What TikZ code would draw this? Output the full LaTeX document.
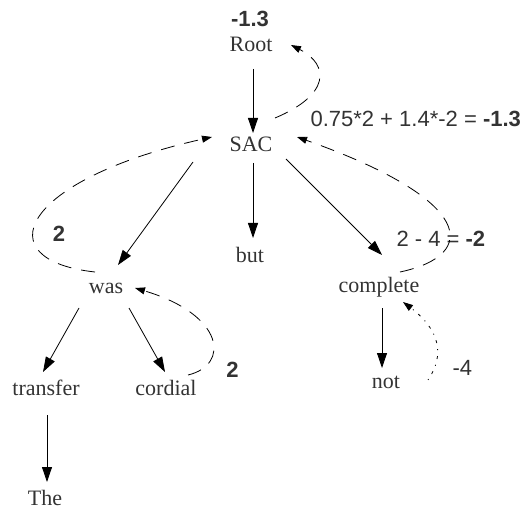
\documentclass[tikz,border=0pt]{standalone}
\usepackage{fontspec}
\setmainfont{Liberation Serif}
\setsansfont{Liberation Sans}
\usepackage{tikz}
\usetikzlibrary{arrows.meta,calc}

\definecolor{inkgray}{HTML}{333333}

\begin{document}
\begin{tikzpicture}[x=1pt,y=-1pt,
  word/.style={inner sep=0pt,text height=16pt,text depth=5pt,
    font=\fontsize{22}{26}\selectfont,text=inkgray},
  score/.style={anchor=base,font=\sffamily\fontsize{22}{26}\selectfont,text=inkgray},
  arr/.style={line width=0.8pt,-{Triangle[length=15pt,width=10pt]}},
  back/.style={line width=0.8pt,dash pattern=on 14pt off 10pt,
    -{Triangle[length=10pt,width=7pt]}},
  dotback/.style={line width=0.8pt,dash pattern=on 1pt off 6pt on 3pt off 6pt,
    -{Triangle[length=10pt,width=7pt]}}]

\useasboundingbox (0,0) rectangle (524,510);

% Words
\node[word] (root) at (251,46.5) {Root};
\node[word] (sac) at (251,146.5) {SAC};
\node[word] (but) at (250,256.5) {but};
\node[word] (was) at (106,288.5) {was};
\node[word] (complete) at (379,287.5) {complete};
\node[word] (transfer) at (46,389.5) {transfer};
\node[word] (cordial) at (166,389.5) {cordial};
\node[word] (not) at (386,382.5) {not};
\node[word] (the) at (45,499.5) {The};

%-------------------------------------------------
% Scores
%-------------------------------------------------

\node[score] (rootscore) at (250,27) {\textbf{-1.3}};
\node[score,anchor=base west] (sacsum) at (307,127) {0.75*2 + 1.4*-2 = \textbf{-1.3}};
\node[score] (wasscore) at (59,242) {\textbf{2}};
\node[score] (cordialscore) at (232.5,377) {\textbf{2}};
\node[score,anchor=base west] (completesum) at (393,247) {2 - 4 = \textbf{-2}};
\node[score,anchor=base west] (notscore) at (449,375) {-4};

%-------------------------------------------------
% Dependency arcs
%-------------------------------------------------

\draw[arr] ($(root)+(2,22.5)$) -- ($(sac)+(2,-13.5)$);
\draw[arr] ($(sac)+(2,16.5)$) -- ($(but)+(3,-18.5)$);
\draw[arr] ($(sac)+(-58,15.5)$) -- ($(was)+(12,-23.5)$);
\draw[arr] ($(sac)+(35,12.5)$) -- ($(complete)+(3,-32.5)$);
\draw[arr] ($(was)+(-27,19.5)$) -- ($(transfer)+(-3,-17.5)$);
\draw[arr] ($(was)+(23,19.5)$) -- ($(cordial)+(-1,-17.5)$);
\draw[arr] ($(transfer)+(1,25.5)$) -- ($(the)+(2,-17.5)$);
\draw[arr] ($(complete)+(3,20.5)$) -- ($(not)+(-4,-14.5)$);

%-------------------------------------------------
% Scores passed back up
%-------------------------------------------------

\draw[back] ($(sac)+(24,-28.5)$) .. controls +(55,-23) and +(39,20) .. ($(root)+(40,-1.5)$);
\draw[back] ($(was)+(-11,-16.5)$) .. controls +(-110,-12) and +(-192,43) .. ($(sac)+(-39,-9.5)$);
\draw[back] ($(complete)+(21,-15.5)$) .. controls +(80,-17) and +(178,63) .. ($(sac)+(46,-9.5)$);
\draw[back] ($(cordial)+(22,-14.5)$) .. controls +(42,-10) and +(90,27) .. ($(was)+(29,-0.5)$);
\draw[dotback] ($(not)+(42,-2.5)$) .. controls +(17,-25) and +(37,28) .. ($(complete)+(24,14.5)$);

\end{tikzpicture}
\end{document}
